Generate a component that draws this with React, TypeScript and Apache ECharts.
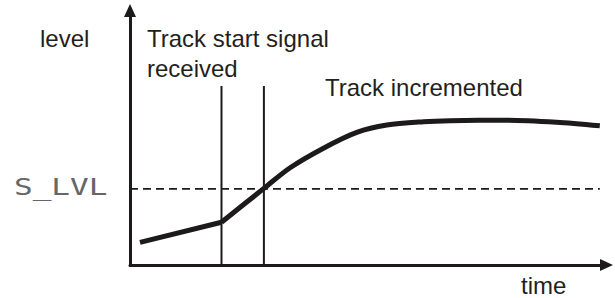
import React, { useEffect, useRef } from "react";
import * as echarts from "echarts";

// Level curve (time, level) in abstract units 0..100
const rampTime = [2.1, 19.2];
const rampLevel = [8.9, 16.8];
const riseTime = [19.2, 28.1, 33.6, 40.6, 47.6, 53.9, 61.6, 67.2, 79.1, 89.5, 98.6];
const riseLevel = [16.8, 30.1, 38.2, 45.9, 52.1, 55.0, 56.3, 56.7, 56.9, 56.1, 54.7];

// Event markers
const signalTimes = [19.2, 28.1];
const markerTop = 70.3;

// Threshold S_LVL
const sLvl = 29.9;
const thresholdEnd = 98.6;

const labels = {
  yName: "level",
  xName: "time",
  start1: "Track start signal",
  start2: "received",
  inc: "Track incremented",
  threshold: "S_LVL",
};

const INK = "#1c1a1b";

export default function App() {
  const ref = useRef<HTMLDivElement>(null);

  useEffect(() => {
    if (!ref.current) return;
    const chart = echarts.init(ref.current, undefined, { renderer: "svg" });

    const pair = (xs: number[], ys: number[]) => xs.map((x, i) => [x, ys[i]]);

    const font = "24px 'Liberation Sans', Arial, sans-serif";
    const txt = (text: string, x: number, y: number) => ({
      type: "text",
      x,
      y,
      style: { text, x: 0, y: 0, font, fill: "#231f20", textVerticalAlign: "middle", textAlign: "left" },
    });

    const axisCommon = {
      type: "value",
      min: 0,
      max: 100,
      axisLine: {
        show: true,
        symbol: ["none", "triangle"],
        symbolSize: [12, 13],
        lineStyle: { color: INK, width: 3 },
      },
      axisTick: { show: false },
      axisLabel: { show: false },
      splitLine: { show: false },
    };

    chart.setOption({
      animation: false,
      grid: { left: 130, right: 8.5, top: 10.5, bottom: 33 },
      xAxis: { ...axisCommon },
      yAxis: { ...axisCommon },
      series: [
        ...signalTimes.map((t) => ({
          type: "line",
          data: [[t, 0], [t, markerTop]],
          symbol: "none",
          lineStyle: { color: INK, width: 2 },
          z: 2,
        })),
        {
          type: "line",
          data: [[0, sLvl], [thresholdEnd, sLvl]],
          symbol: "none",
          lineStyle: { color: INK, width: 1.8, type: [8, 5] },
          z: 2,
        },
        {
          type: "line",
          data: pair(rampTime, rampLevel),
          symbol: "none",
          lineStyle: { color: INK, width: 5, cap: "butt" },
          z: 3,
        },
        {
          type: "line",
          data: pair(riseTime, riseLevel),
          symbol: "none",
          smooth: 0.3,
          lineStyle: { color: INK, width: 5, cap: "butt", join: "round" },
          z: 3,
        },
      ],
      graphic: [
        txt(labels.yName, 40, 38),
        txt(labels.start1, 147, 38.5),
        txt(labels.start2, 147, 68),
        txt(labels.inc, 325, 87.5),
        txt(labels.xName, 521, 285.5),
        {
          type: "text",
          x: 14,
          y: 187,
          scaleX: 1.35,
          style: {
            text: labels.threshold,
            x: 0,
            y: 0,
            font: "23px 'DejaVu Sans Mono', monospace",
            fill: "#666",
            textVerticalAlign: "middle",
            textAlign: "left",
          },
        },
      ],
    });

    return () => chart.dispose();
  }, []);

  return (
    <div
      ref={ref}
      style={{ position: "fixed", left: 0, top: 0, width: 615, height: 298, background: "#fff" }}
    />
  );
}
